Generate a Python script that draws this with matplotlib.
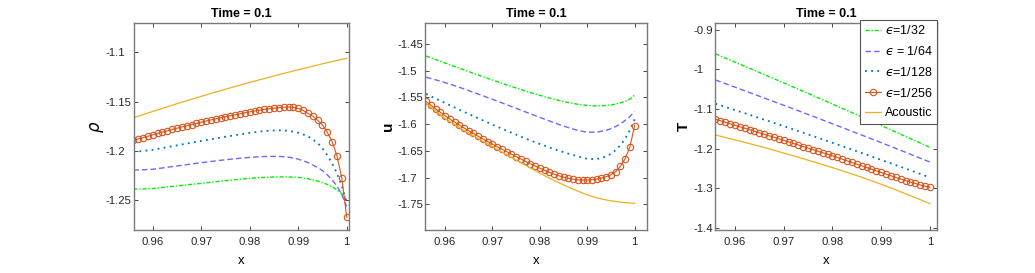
import numpy as np
import matplotlib.pyplot as plt
from matplotlib.ticker import FuncFormatter

plt.rcParams['font.family'] = ['Liberation Sans', 'DejaVu Sans']
plt.rcParams['mathtext.fontset'] = 'dejavusans'
plt.rcParams['axes.unicode_minus'] = False

# grid of the eps=1/256 run (one circle per node)
x_fine = np.linspace(0.956, 1.0, 45)
# coarser sampling for the other curves
x_coarse = [0.956, 0.958, 0.960, 0.962, 0.964, 0.966, 0.968, 0.970, 0.972,
            0.974, 0.976, 0.978, 0.980, 0.982, 0.984, 0.986, 0.988, 0.990,
            0.992, 0.994, 0.995, 0.996, 0.997, 0.998, 0.999, 1.000]

labels = ['$\u03f5$=1/32', '$\u03f5$ = 1/64', '$\u03f5$=1/128',
          '$\u03f5$=1/256', 'Acoustic']

# ---- rho ----
rho_32 = [-1.2390, -1.2388, -1.2384, -1.2373, -1.2362, -1.2352, -1.2341, -1.2331, -1.2320,
          -1.2309, -1.2299, -1.2289, -1.2280, -1.2273, -1.2268, -1.2266, -1.2266, -1.2270,
          -1.2285, -1.2308, -1.2324, -1.2342, -1.2365, -1.2398, -1.2438, -1.2483]
rho_64 = [-1.2196, -1.2193, -1.2188, -1.2175, -1.2161, -1.2148, -1.2134, -1.2121, -1.2109,
          -1.2097, -1.2086, -1.2076, -1.2067, -1.2061, -1.2057, -1.2057, -1.2065, -1.2085,
          -1.2120, -1.2170, -1.2202, -1.2245, -1.2297, -1.2358, -1.2445, -1.2568]
rho_128 = [-1.2012, -1.2002, -1.1991, -1.1972, -1.1954, -1.1936, -1.1918, -1.1900, -1.1883,
           -1.1866, -1.1850, -1.1834, -1.1818, -1.1805, -1.1796, -1.1792, -1.1797, -1.1817,
           -1.1852, -1.1920, -1.1975, -1.2045, -1.2130, -1.2230, -1.2360, -1.2530]
rho_256 = [-1.1894, -1.1880, -1.1866, -1.1852, -1.1838, -1.1824, -1.1810, -1.1797, -1.1784,
           -1.1771, -1.1758, -1.1746, -1.1734, -1.1722, -1.1710, -1.1698, -1.1687, -1.1676,
           -1.1665, -1.1654, -1.1644, -1.1634, -1.1624, -1.1614, -1.1605, -1.1596, -1.1588,
           -1.1580, -1.1573, -1.1567, -1.1562, -1.1558, -1.1556, -1.1558, -1.1570, -1.1590,
           -1.1620, -1.1648, -1.1690, -1.1738, -1.1813, -1.1908, -1.2053, -1.2280, -1.2676]
rho_ac = [-1.1665, -1.1633, -1.1601, -1.1569, -1.1538, -1.1507, -1.1477, -1.1447, -1.1418,
          -1.1389, -1.1361, -1.1333, -1.1306, -1.1279, -1.1253, -1.1227, -1.1202, -1.1177,
          -1.1153, -1.1129, -1.1117, -1.1105, -1.1094, -1.1083, -1.1072, -1.1061]

# ---- u ----
u_32 = [-1.4725, -1.4790, -1.4855, -1.4920, -1.4984, -1.5048, -1.5111, -1.5173, -1.5234,
        -1.5294, -1.5352, -1.5408, -1.5461, -1.5510, -1.5555, -1.5595, -1.5628, -1.5650,
        -1.5658, -1.5650, -1.5640, -1.5625, -1.5603, -1.5573, -1.5530, -1.5455]
u_64 = [-1.5120, -1.5170, -1.5222, -1.5280, -1.5341, -1.5404, -1.5469, -1.5535, -1.5602,
        -1.5670, -1.5738, -1.5806, -1.5873, -1.5940, -1.6005, -1.6065, -1.6118, -1.6150,
        -1.6150, -1.6115, -1.6085, -1.6045, -1.5995, -1.5930, -1.5855, -1.5765]
u_128 = [-1.5435, -1.5520, -1.5604, -1.5687, -1.5769, -1.5850, -1.5930, -1.6008, -1.6085,
         -1.6160, -1.6233, -1.6304, -1.6372, -1.6436, -1.6496, -1.6552, -1.6602, -1.6650,
         -1.6655, -1.6605, -1.6555, -1.6485, -1.6395, -1.6270, -1.6110, -1.5906]
u_256 = [-1.5575, -1.5644, -1.5712, -1.5778, -1.5842, -1.5902, -1.5960, -1.6016, -1.6070,
         -1.6123, -1.6175, -1.6226, -1.6276, -1.6325, -1.6373, -1.6421, -1.6468, -1.6515,
         -1.6561, -1.6607, -1.6652, -1.6697, -1.6741, -1.6784, -1.6825, -1.6865, -1.6902,
         -1.6936, -1.6966, -1.6992, -1.7014, -1.7031, -1.7042, -1.7047, -1.7046, -1.7040,
         -1.7028, -1.7010, -1.6985, -1.6948, -1.6890, -1.6790, -1.6645, -1.6425, -1.6026]
u_ac = [-1.5610, -1.5754, -1.5893, -1.6005, -1.6113, -1.6218, -1.6320, -1.6419, -1.6521,
        -1.6622, -1.6722, -1.6821, -1.6919, -1.7011, -1.7097, -1.7178, -1.7254, -1.7325,
        -1.7380, -1.7420, -1.7435, -1.7448, -1.7460, -1.7469, -1.7476, -1.7481]

# ---- T ----
T_32 = [-0.9610, -0.9714, -0.9818, -0.9922, -1.0027, -1.0132, -1.0237, -1.0343, -1.0449,
        -1.0555, -1.0662, -1.0769, -1.0876, -1.0984, -1.1092, -1.1200, -1.1309, -1.1418,
        -1.1527, -1.1637, -1.1692, -1.1747, -1.1802, -1.1857, -1.1912, -1.1967]
T_64 = [-1.0270, -1.0360, -1.0450, -1.0541, -1.0632, -1.0723, -1.0815, -1.0907, -1.0999,
        -1.1092, -1.1185, -1.1279, -1.1373, -1.1467, -1.1562, -1.1657, -1.1753, -1.1849,
        -1.1946, -1.2043, -1.2092, -1.2141, -1.2190, -1.2239, -1.2288, -1.2337]
T_128 = [-1.0868, -1.0947, -1.1027, -1.1107, -1.1188, -1.1269, -1.1351, -1.1433, -1.1516,
         -1.1599, -1.1683, -1.1767, -1.1852, -1.1937, -1.2023, -1.2109, -1.2196, -1.2283,
         -1.2371, -1.2459, -1.2503, -1.2547, -1.2592, -1.2637, -1.2682, -1.2727]
T_256 = [-1.1257, -1.1295, -1.1333, -1.1371, -1.1409, -1.1447, -1.1485, -1.1523, -1.1561,
         -1.1599, -1.1637, -1.1675, -1.1713, -1.1751, -1.1790, -1.1829, -1.1868, -1.1907,
         -1.1946, -1.1985, -1.2024, -1.2063, -1.2102, -1.2141, -1.2180, -1.2222, -1.2264,
         -1.2306, -1.2348, -1.2390, -1.2432, -1.2474, -1.2516, -1.2558, -1.2600, -1.2642,
         -1.2684, -1.2725, -1.2765, -1.2804, -1.2841, -1.2878, -1.2915, -1.2948, -1.2972]
T_ac = [-1.1656, -1.1717, -1.1779, -1.1842, -1.1906, -1.1972, -1.2040, -1.2110, -1.2181,
        -1.2253, -1.2327, -1.2402, -1.2478, -1.2556, -1.2637, -1.2721, -1.2808, -1.2898,
        -1.2991, -1.3087, -1.3136, -1.3185, -1.3235, -1.3285, -1.3336, -1.3387]

panels = [
    (rho_32, rho_64, rho_128, rho_256, rho_ac, r'$\rho$', 'normal',
     (0.95615, 1.00047), (-1.2805, -1.0702), [-1.25, -1.2, -1.15, -1.1]),
    (u_32, u_64, u_128, u_256, u_ac, 'u', 'bold',
     (0.95577, 1.0026), (-1.7982, -1.4106), [-1.75, -1.7, -1.65, -1.6, -1.55, -1.5, -1.45]),
    (T_32, T_64, T_128, T_256, T_ac, 'T', 'bold',
     (0.9559, 1.00144), (-1.405, -0.8833), [-1.4, -1.3, -1.2, -1.1, -1.0, -0.9]),
]
positions = [[0.1295, 0.1575, 0.2077, 0.7583],
             [0.4106, 0.1575, 0.2145, 0.7583],
             [0.6908, 0.1575, 0.2145, 0.7583]]
# y tick labels are left aligned, this is the gap from spine to label start (pt)
ypads = [20.5, 19.5, 15.5]

fmt = FuncFormatter(lambda v, p: '%g' % round(v, 4))

fig = plt.figure(figsize=(10.35, 2.73), dpi=100)
for k, (s32, s64, s128, s256, sac, ylab, yw, xl, yl, yt) in enumerate(panels):
    ax = fig.add_axes(positions[k])
    ax.plot(x_coarse, s32, color='#00ee00', linewidth=1.0, dashes=(3, 1.3, 1, 1.3), label=labels[0])
    ax.plot(x_coarse, s64, color='#6a6aff', linewidth=1.0, dashes=(4, 2.2), label=labels[1])
    ax.plot(x_coarse, s128, color='#0072bd', linewidth=1.3, dashes=(1, 2.4), label=labels[2])
    ax.plot(x_fine, s256, color='#d95319', linewidth=0.8, marker='o', markersize=4.6,
            markerfacecolor='none', markeredgewidth=0.8, label=labels[3])
    ax.plot(x_coarse, sac, color='#edb120', linewidth=0.9, label=labels[4])

    ax.set_xlim(xl)
    ax.set_ylim(yl)
    ax.set_xticks([0.96, 0.97, 0.98, 0.99, 1.0])
    ax.set_yticks(yt)
    ax.xaxis.set_major_formatter(fmt)
    ax.yaxis.set_major_formatter(fmt)
    ax.tick_params(direction='in', length=3, width=0.6, top=True, right=True,
                   labelsize=8.2, colors='#262626', pad=5)
    ax.tick_params(axis='y', pad=ypads[k])
    plt.setp(ax.get_yticklabels(), ha='left')
    for sp in ax.spines.values():
        sp.set_color('#7a7a7a')
        sp.set_linewidth(1.0)
    ax.set_title('Time = 0.1', fontsize=9, fontweight='bold', pad=4)
    ax.set_xlabel('x', fontsize=9.5, labelpad=6)
    if yw == 'bold':
        ax.set_ylabel(ylab, fontsize=11, fontweight='bold', labelpad=2)
    else:
        ax.set_ylabel(ylab, fontsize=12, labelpad=0)

    if k == 2:
        leg = ax.legend(loc='upper right', bbox_to_anchor=(1.0, 1.015), borderaxespad=0,
                        fontsize=9, handlelength=1.3, handletextpad=0.3, labelspacing=0.62,
                        borderpad=0.35, fancybox=False, framealpha=1)
        leg.get_frame().set_edgecolor('#555555')
        leg.get_frame().set_linewidth(0.8)

fig.savefig('out.png', dpi=100)
